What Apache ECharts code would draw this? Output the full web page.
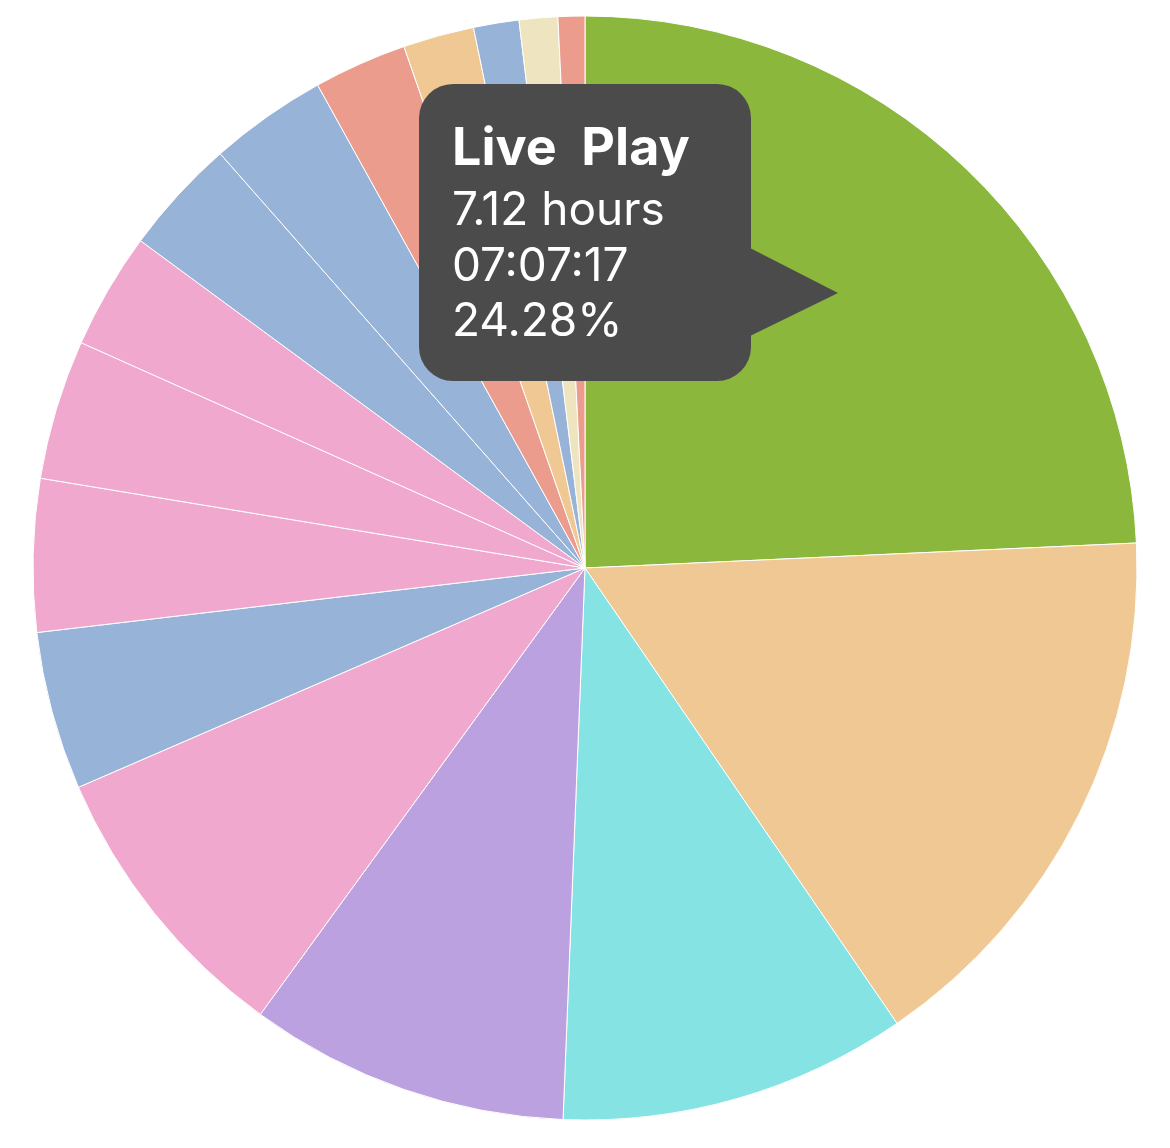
<!DOCTYPE html>
<html>
<head>
<meta charset="utf-8">
<script src="https://cdn.jsdelivr.net/npm/echarts@6/dist/echarts.min.js"></script>
<style>
html,body{margin:0;padding:0;background:#fff;}
#chart{width:1170px;height:1148px;}
</style>
</head>
<body>
<div id="chart"></div>
<script>
// Categories (only "Live  Play" is visible in the reference; others unlabeled)
var categories = ["Live  Play","Activity 2","Activity 3","Activity 4","Activity 5","Activity 6","Activity 7","Activity 8","Activity 9","Activity 10","Activity 11","Activity 12","Activity 13","Activity 14","Activity 15","Activity 16"];
// Hours per category
var hours = [7.1214,4.74,2.99,2.75,2.49,1.36,1.31,1.20,1.00,1.00,1.01,0.80,0.61,0.39,0.33,0.23];
var colors = ["#8BB73C","#F0C893","#86E3E3","#BCA1E0","#F1A8CF","#97B3D8","#F1A8CF","#F1A8CF","#F1A8CF","#97B3D8","#97B3D8","#EC9C8D","#F0C893","#97B3D8","#EEE4C0","#EC9C8D"];
var highlightedIndex = 0;

var total = hours.reduce(function(a,b){return a+b;},0);
function pad(n){return (n<10?'0':'')+n;}
function hms(h){
  var s=Math.round(h*3600);
  return pad(Math.floor(s/3600))+':'+pad(Math.floor(s%3600/60))+':'+pad(s%60);
}
var hv = hours[highlightedIndex];
var tipLines = [
  categories[highlightedIndex],
  hv.toFixed(2)+' hours',
  hms(hv),
  (hv/total*100).toFixed(2)+'%'
];

var chart = echarts.init(document.getElementById('chart'), null, {renderer:'canvas'});
var FONT = 'Inter, "Open Sans", Roboto, sans-serif';
chart.setOption({
  animation:false,
  backgroundColor:'#ffffff',
  series:[{
    type:'pie',
    z:1,
    center:[585,568],
    radius:[0,552],
    startAngle:90,
    clockwise:true,
    silent:true,
    label:{show:false},
    labelLine:{show:false},
    itemStyle:{borderColor:'#ffffff',borderWidth:1},
    data:categories.map(function(c,i){return {name:c,value:hours[i],itemStyle:{color:colors[i]}};})
  }],
  graphic:{
    elements:[
      {type:'rect',z:100,zlevel:1,shape:{x:419,y:84,width:332,height:297,r:34},style:{fill:'#4B4B4B'}},
      {type:'polygon',z:100,zlevel:1,shape:{points:[[750,248],[838,293],[750,336]]},style:{fill:'#4B4B4B'}},
      {type:'text',z:101,zlevel:1,x:452,y:149,style:{text:tipLines[0],fill:'#ffffff',fontSize:52,fontWeight:'bold',fontFamily:FONT,verticalAlign:'middle'}},
      {type:'text',z:101,zlevel:1,x:452,y:211,style:{text:tipLines[1],fill:'#ffffff',fontSize:46,fontWeight:'normal',fontFamily:FONT,verticalAlign:'middle'}},
      {type:'text',z:101,zlevel:1,x:452,y:267,style:{text:tipLines[2],fill:'#ffffff',fontSize:46,fontWeight:'normal',fontFamily:FONT,verticalAlign:'middle'}},
      {type:'text',z:101,zlevel:1,x:452,y:322,style:{text:tipLines[3],fill:'#ffffff',fontSize:46,fontWeight:'normal',fontFamily:FONT,verticalAlign:'middle'}}
    ]
  }
});
</script>
</body>
</html>
